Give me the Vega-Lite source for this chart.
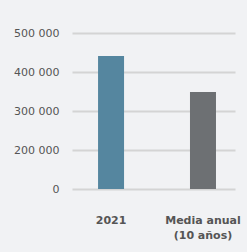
{
  "$schema": "https://vega.github.io/schema/vega-lite/v6.json",
  "autosize": {"type": "none"},
  "width": 163,
  "height": 156,
  "padding": {"left": 72, "top": 33, "right": 12, "bottom": 63},
  "background": "#f1f2f4",
  "config": {"view": {"stroke": null}},
  "data": {"values": [
    {"cat": "2021", "value": 441000},
    {"cat": "Media anual (10 años)", "value": 348500}
  ]},
  "mark": {"type": "bar", "width": 26},
  "encoding": {
    "x": {
      "field": "cat", "type": "nominal", "sort": null,
      "scale": {"paddingInner": 0.717, "paddingOuter": 0.245, "align": 0.578},
      "axis": {
        "title": null, "labelAngle": 0, "ticks": false, "domain": false,
        "labelExpr": "datum.value == '2021' ? '2021' : ['Media anual', '(10 años)']",
        "labelBaseline": "middle", "labelPadding": 31, "labelFont": "DejaVu Sans",
        "labelFontWeight": "bold", "labelFontSize": 11, "labelColor": "#555555", "labelLineHeight": 15
      }
    },
    "y": {
      "field": "value", "type": "quantitative",
      "scale": {"domain": [100000, 500000], "zero": false},
      "axis": {
        "title": null, "values": [100000, 200000, 300000, 400000, 500000],
        "labelExpr": "datum.value == 100000 ? '0' : format(datum.value / 1000, 'd') + ' 000'",
        "ticks": false, "domain": false, "labelPadding": 13,
        "labelFont": "DejaVu Sans", "labelFontSize": 11, "labelColor": "#555555",
        "gridColor": "#d4d4d4", "gridWidth": 2
      }
    },
    "y2": {"datum": 100000},
    "color": {
      "field": "cat", "type": "nominal", "legend": null,
      "scale": {"range": ["#55869f", "#6d7073"]}
    }
  }
}
